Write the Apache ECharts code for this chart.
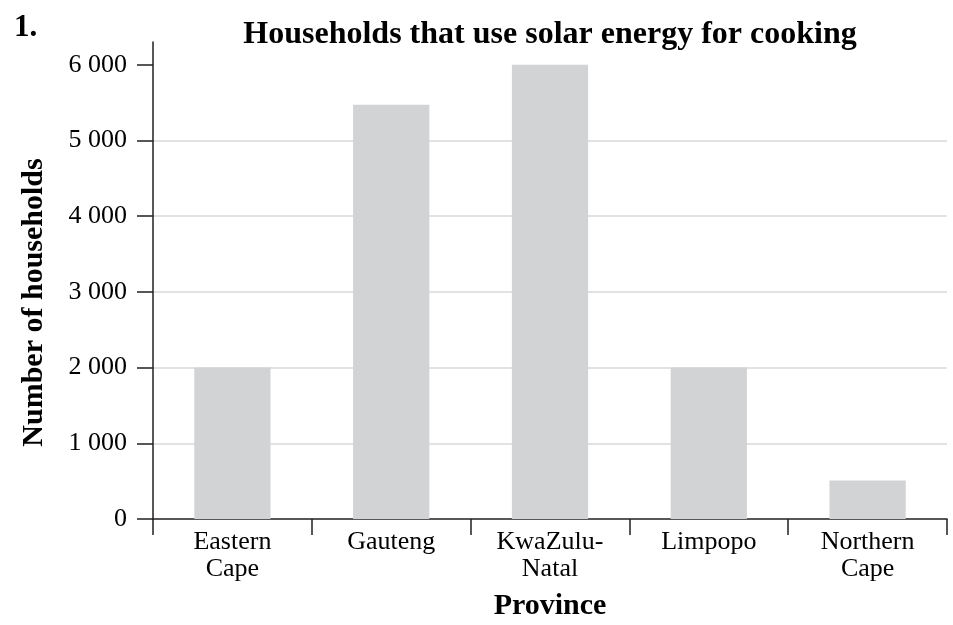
<!DOCTYPE html>
<html>
<head>
<meta charset="utf-8">
<script src="https://cdn.jsdelivr.net/npm/echarts@6/dist/echarts.min.js"></script>
<style>
html,body{margin:0;padding:0;background:#fff;}
#chart{width:953px;height:625px;}
</style>
</head>
<body>
<div id="chart"></div>
<script>
const categories = ['Eastern\nCape', 'Gauteng', 'KwaZulu-\nNatal', 'Limpopo', 'Northern\nCape'];
const households = [2000, 5470, 6000, 2000, 510];
const yTicks = [0, 1000, 2000, 3000, 4000, 5000, 6000];

const FONT = '"Liberation Serif", "Times New Roman", serif';
const INK = '#231f20';

function fmt(v) {
  return String(v).replace(/\B(?=(\d{3})+(?!\d))/g, ' ');
}

const chart = echarts.init(document.getElementById('chart'), null, {renderer: 'canvas'});
chart.setOption({
  animation: false,
  backgroundColor: '#ffffff',
  title: [{
    text: 'Households that use solar energy for cooking',
    left: 545, top: 14, textAlign: 'center',
    textStyle: {fontFamily: FONT, fontWeight: 'bold', fontSize: 32, color: '#000'}
  }, {
    text: '1.',
    left: 9, top: 7,
    textStyle: {fontFamily: FONT, fontWeight: 'bold', fontSize: 31, color: '#000'}
  }],
  grid: {left: 153, right: 6, top: 42, bottom: 106, containLabel: false, outerBoundsMode: 'none'},
  xAxis: {
    type: 'category',
    data: categories,
    name: 'Province',
    nameLocation: 'middle',
    nameGap: 72,
    nameTextStyle: {fontFamily: FONT, fontWeight: 'bold', fontSize: 30, color: '#000'},
    axisLine: {show: true, lineStyle: {color: INK, width: 1.5}},
    axisTick: {show: true, length: 16, lineStyle: {color: INK, width: 1.5}},
    axisLabel: {fontFamily: FONT, fontSize: 26, color: '#000', margin: 10, lineHeight: 27, interval: 0},
    splitLine: {show: false}
  },
  yAxis: {
    type: 'value',
    min: 0, max: 6300,
    name: 'Number of households',
    nameLocation: 'middle',
    nameGap: 104,
    nameRotate: 90,
    nameTextStyle: {fontFamily: FONT, fontWeight: 'bold', fontSize: 30, color: '#000', padding: [0, 44, 0, 0]},
    axisLine: {show: true, lineStyle: {color: INK, width: 1.5}},
    axisTick: {show: true, length: 16, customValues: yTicks, lineStyle: {color: INK, width: 1.5}},
    axisLabel: {fontFamily: FONT, fontSize: 26, color: '#000', margin: 26, customValues: yTicks, formatter: v => fmt(v)},
    splitLine: {show: true, showMinLine: false, showMaxLine: false, lineStyle: {color: '#d9d9d9', width: 1.5}}
  },
  series: [{
    type: 'bar',
    data: households,
    barCategoryGap: '52%',
    itemStyle: {color: '#d1d3d4'}
  }]
});
</script>
</body>
</html>
